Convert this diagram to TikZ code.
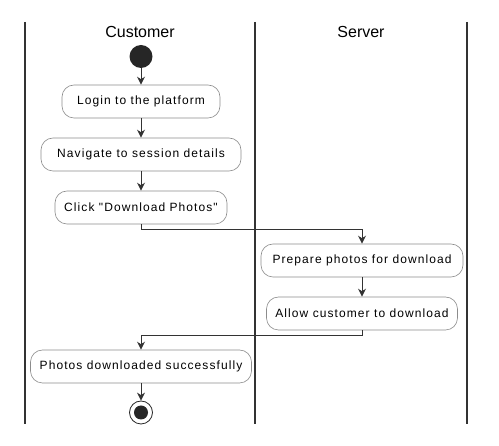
\documentclass[tikz,border=0pt]{standalone}
\usepackage{fontspec}
\setmainfont{Liberation Sans}[Ligatures=TeXOff]
\usetikzlibrary{arrows.meta}
\tikzstyle{aStart} = [circle, minimum size=23pt, inner sep=0pt, fill=black!85]
\tikzstyle{aStop} = [circle, minimum size=23pt, inner sep=0pt, draw=black!85, line width=0.8pt, fill=white, path picture={\fill[black!85] (path picture bounding box.center) circle (7pt);}]
\tikzstyle{aAction} = [rectangle, rounded corners=12pt, minimum height=33pt, inner xsep=4pt, text centered, draw=black!45, line width=0.6pt, fill=white, font=\fontsize{12}{14}\selectfont\addfontfeature{LetterSpace=9}]
\tikzstyle{aArrow} = [line width=1pt, draw=black!80, -{Stealth[length=8pt, width=8pt, inset=2.5pt]}]
\tikzstyle{aLane} = [line width=2pt, draw=black!80]
\tikzstyle{aTitle} = [font=\fontsize{16}{18}\selectfont]
\begin{document}
\begin{tikzpicture}[x=1pt, y=1pt, node distance=53pt]
    \useasboundingbox (0,0) rectangle (499,-446);
    % swimlanes
    \draw [aLane] (25,-22) -- (25,-424);
    \draw [aLane] (255,-22) -- (255,-424);
    \draw [aLane] (467,-22) -- (467,-424);
    \node (custTitle) [aTitle] at (140,-32) {Customer};
    \node (servTitle) [aTitle] at (361,-32) {Server};

    \node (start) [aStart] at (141,-56.5) {};
    \node (login) [aAction, minimum width=158pt, below of=start, yshift=8pt] {Login to the platform};
    \node (navigate) [aAction, minimum width=200pt, below of=login] {Navigate to session details};
    \node (click) [aAction, minimum width=172pt, below of=navigate] {Click "Download Photos"};
    \node (prepare) [aAction, minimum width=202pt, below of=click, xshift=221pt] {Prepare photos for download};
    \node (allow) [aAction, minimum width=191pt, below of=prepare] {Allow customer to download};
    \node (done) [aAction, minimum width=221pt, below of=allow, xshift=-221pt] {Photos downloaded successfully};
    \node (stop) [aStop, below of=done, yshift=7pt] {};

    \draw [aArrow] (start) -- (login);
    \draw [aArrow] (login) -- (navigate);
    \draw [aArrow] (navigate) -- (click);
    \draw [aArrow] (click.south) -- ++(0,-5.5) -| (prepare.north);
    \draw [aArrow] (prepare) -- (allow);
    \draw [aArrow] (allow.south) -- ++(0,-5) -| (done.north);
    \draw [aArrow] (done) -- (stop);
\end{tikzpicture}
\end{document}
